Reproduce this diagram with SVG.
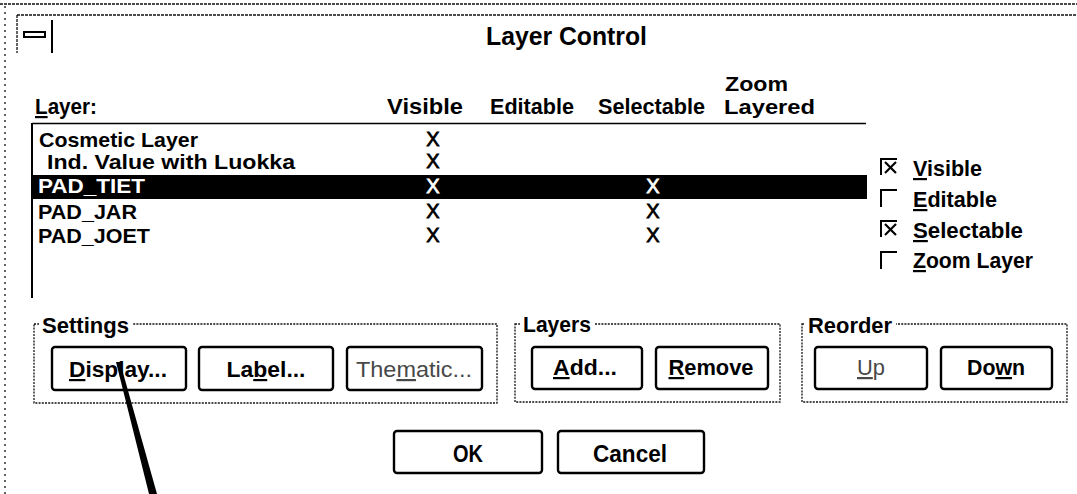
<svg xmlns="http://www.w3.org/2000/svg" width="1077" height="494" viewBox="0 0 1077 494">
  <style>
    text { font-family: "Liberation Sans", Arial, sans-serif; font-weight: bold; fill: #000; }
    .title { font-size: 25px; }
    .hdr { font-size: 22px; }
    .hdr2 { font-size: 21px; }
    .row { font-size: 21px; }
    .sel { fill: #fff; }
    .mark { font-weight: normal; font-size: 20px; text-anchor: middle; stroke: #000; stroke-width: 0.8; }
    .mark.sel { stroke: #fff; }
    .btn-t { font-size: 22px; text-anchor: middle; }
    .big-t { font-size: 24px; text-anchor: middle; }
    .off { fill: #484848; font-weight: normal; }
    .u { text-decoration: underline; }
    .frame { fill: none; stroke: #111; stroke-width: 1.3; stroke-dasharray: 3 1; }
    .frame-side { fill: none; stroke: #111; stroke-width: 1.3; stroke-dasharray: 2 4; }
    .group { fill: none; stroke: #111; stroke-width: 1.3; stroke-dasharray: 2 1.2; }
    .btn { fill: #fff; stroke: #000; stroke-width: 2.4; }
    .cb { fill: none; stroke: #000; stroke-width: 2; }
    .cross { stroke: #000; stroke-width: 2.2; }
  </style>

  <rect width="1077" height="494" fill="#fff"/>

  <!-- window frame and title bar -->
  <g id="window-frame">
    <line class="frame" x1="0" y1="4" x2="1077" y2="4"/>
    <line class="frame" x1="17" y1="15" x2="1077" y2="15"/>
    <line class="frame-side" x1="5" y1="6" x2="5" y2="494"/>
    <line class="frame" x1="17" y1="15" x2="17" y2="53"/>
    <rect x="24" y="32" width="21" height="5" fill="none" stroke="#000" stroke-width="2"/>
    <line x1="52" y1="20" x2="52" y2="53" stroke="#000" stroke-width="2"/>
    <text class="title" x="486" y="45" textLength="161" lengthAdjust="spacingAndGlyphs">Layer Control</text>
  </g>

  <!-- column headings -->
  <g id="headers">
    <text class="hdr" x="35" y="114" textLength="62" lengthAdjust="spacingAndGlyphs"><tspan class="u">L</tspan>ayer:</text>
    <text class="hdr" x="387" y="114" textLength="76" lengthAdjust="spacingAndGlyphs">Visible</text>
    <text class="hdr" x="490" y="114" textLength="84" lengthAdjust="spacingAndGlyphs">Editable</text>
    <text class="hdr" x="598" y="114" textLength="107" lengthAdjust="spacingAndGlyphs">Selectable</text>
    <text class="hdr2" x="725" y="91" textLength="63" lengthAdjust="spacingAndGlyphs">Zoom</text>
    <text class="hdr2" x="724" y="114" textLength="91" lengthAdjust="spacingAndGlyphs">Layered</text>
  </g>

  <!-- layer list box -->
  <g id="layer-list">
    <line x1="32" y1="123.5" x2="866" y2="123.5" stroke="#000" stroke-width="1.6"/>
    <line x1="32" y1="123" x2="32" y2="298" stroke="#000" stroke-width="2"/>
    <rect x="33" y="175" width="834" height="24" fill="#000"/>

    <text class="row" x="39" y="147" textLength="159" lengthAdjust="spacingAndGlyphs">Cosmetic Layer</text>
    <text class="row" x="47" y="169" textLength="248" lengthAdjust="spacingAndGlyphs">Ind. Value with Luokka</text>
    <text class="row sel" x="38" y="193" textLength="107" lengthAdjust="spacingAndGlyphs">PAD_TIET</text>
    <text class="row" x="38" y="219" textLength="99" lengthAdjust="spacingAndGlyphs">PAD_JAR</text>
    <text class="row" x="38" y="243" textLength="112" lengthAdjust="spacingAndGlyphs">PAD_JOET</text>

    <text class="mark" x="433" y="146">X</text>
    <text class="mark" x="433" y="168">X</text>
    <text class="mark sel" x="433" y="193">X</text>
    <text class="mark" x="433" y="218">X</text>
    <text class="mark" x="433" y="242">X</text>
    <text class="mark sel" x="653" y="193">X</text>
    <text class="mark" x="653" y="218">X</text>
    <text class="mark" x="653" y="242">X</text>
  </g>

  <!-- property check boxes -->
  <g id="check-visible">
    <path class="cb" d="M881 175 V159 H897"/>
    <line class="cross" x1="885" y1="162" x2="896" y2="173"/>
    <line class="cross" x1="896" y1="162" x2="885" y2="173"/>
    <text class="hdr" x="913" y="176" textLength="69" lengthAdjust="spacingAndGlyphs"><tspan class="u">V</tspan>isible</text>
  </g>
  <g id="check-editable">
    <path class="cb" d="M881 207 V190 H897"/>
    <text class="hdr" x="913" y="207" textLength="84" lengthAdjust="spacingAndGlyphs"><tspan class="u">E</tspan>ditable</text>
  </g>
  <g id="check-selectable">
    <path class="cb" d="M881 237 V221 H897"/>
    <line class="cross" x1="885" y1="224" x2="896" y2="235"/>
    <line class="cross" x1="896" y1="224" x2="885" y2="235"/>
    <text class="hdr" x="913" y="238" textLength="110" lengthAdjust="spacingAndGlyphs"><tspan class="u">S</tspan>electable</text>
  </g>
  <g id="check-zoom">
    <path class="cb" d="M881 269 V252 H897"/>
    <text class="hdr" x="913" y="268" textLength="120" lengthAdjust="spacingAndGlyphs"><tspan class="u">Z</tspan>oom Layer</text>
  </g>

  <!-- Settings group -->
  <g id="group-settings">
    <rect class="group" x="34" y="324" width="463" height="79"/>
    <rect x="39" y="314" width="94" height="18" fill="#fff"/>
    <text class="hdr" x="42" y="333" textLength="87" lengthAdjust="spacingAndGlyphs">Settings</text>
  </g>
  <g id="btn-display">
    <rect class="btn" x="52" y="347" width="134" height="43" rx="3"/>
    <text class="btn-t" x="118" y="377" textLength="98" lengthAdjust="spacingAndGlyphs"><tspan class="u">D</tspan>isplay...</text>
  </g>
  <g id="btn-label">
    <rect class="btn" x="199" y="347" width="134" height="43" rx="3"/>
    <text class="btn-t" x="266" y="377" textLength="79" lengthAdjust="spacingAndGlyphs">La<tspan class="u">b</tspan>el...</text>
  </g>
  <g id="btn-thematic">
    <rect class="btn" x="347" y="347" width="135" height="43" rx="3"/>
    <text class="btn-t off" x="414" y="377" textLength="116" lengthAdjust="spacingAndGlyphs">The<tspan class="u">m</tspan>atic...</text>
  </g>

  <!-- Layers group -->
  <g id="group-layers">
    <rect class="group" x="515" y="324" width="265" height="78"/>
    <rect x="520" y="314" width="75" height="18" fill="#fff"/>
    <text class="hdr" x="523" y="332" textLength="68" lengthAdjust="spacingAndGlyphs">Layers</text>
  </g>
  <g id="btn-add">
    <rect class="btn" x="532" y="347" width="110" height="42" rx="3"/>
    <text class="btn-t" x="585" y="375" textLength="64" lengthAdjust="spacingAndGlyphs"><tspan class="u">A</tspan>dd...</text>
  </g>
  <g id="btn-remove">
    <rect class="btn" x="656" y="347" width="112" height="42" rx="3"/>
    <text class="btn-t" x="711" y="375" textLength="85" lengthAdjust="spacingAndGlyphs"><tspan class="u">R</tspan>emove</text>
  </g>

  <!-- Reorder group -->
  <g id="group-reorder">
    <rect class="group" x="802" y="324" width="265" height="78"/>
    <rect x="805" y="314" width="91" height="18" fill="#fff"/>
    <text class="hdr" x="808" y="333" textLength="84" lengthAdjust="spacingAndGlyphs">Reorder</text>
  </g>
  <g id="btn-up">
    <rect class="btn" x="815" y="347" width="112" height="42" rx="3"/>
    <text class="btn-t off" x="871" y="375" textLength="28" lengthAdjust="spacingAndGlyphs"><tspan class="u">U</tspan>p</text>
  </g>
  <g id="btn-down">
    <rect class="btn" x="941" y="347" width="111" height="42" rx="3"/>
    <text class="btn-t" x="996" y="375" textLength="58" lengthAdjust="spacingAndGlyphs">Do<tspan class="u">w</tspan>n</text>
  </g>

  <!-- dialog buttons -->
  <g id="btn-ok">
    <rect class="btn" x="394" y="431" width="148" height="42" rx="3"/>
    <text class="big-t" x="468" y="462" textLength="30" lengthAdjust="spacingAndGlyphs">OK</text>
  </g>
  <g id="btn-cancel">
    <rect class="btn" x="558" y="431" width="146" height="42" rx="3"/>
    <text class="big-t" x="630" y="462" textLength="74" lengthAdjust="spacingAndGlyphs">Cancel</text>
  </g>

  <!-- pointer line to the Display button -->
  <g id="connectors">
    <polygon points="116,362 120,362 157,494 149,494" fill="#000"/>
  </g>
</svg>
